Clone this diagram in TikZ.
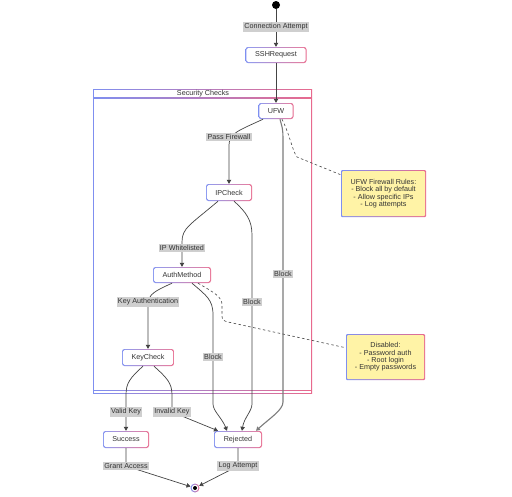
\documentclass[tikz,border=0pt]{standalone}
\usepackage{fontspec}
\setmainfont{Liberation Sans}
\usetikzlibrary{arrows.meta}
\definecolor{bc}{HTML}{7F8FF0}
\definecolor{pc}{HTML}{E86A8E}
\definecolor{notefill}{HTML}{FFF3A6}
\definecolor{lblfill}{HTML}{CFCFCF}
\definecolor{edgec}{HTML}{444444}
\definecolor{txtc}{HTML}{333333}
\tikzset{
  fnt/.style={font=\fontsize{7.2}{7.3}\selectfont},
  statebox/.style={fnt, rounded corners=2.5pt, left color=bc, right color=pc, text=txtc, inner sep=0pt,
    path picture={\fill[white,rounded corners=1.8pt] ([shift={(0.9pt,-0.9pt)}]path picture bounding box.north west) rectangle ([shift={(-0.9pt,0.9pt)}]path picture bounding box.south east);}},
  notebox/.style={fnt, rounded corners=1pt, left color=bc, right color=pc, text=txtc, inner sep=0pt, align=center,
    path picture={\fill[notefill] ([shift={(1pt,-1pt)}]path picture bounding box.north west) rectangle ([shift={(-1pt,1pt)}]path picture bounding box.south east);}},
  lbl/.style={fnt, fill=lblfill, text=txtc, inner xsep=1.2pt, inner ysep=1.6pt},
  edge/.style={draw=edgec, line width=0.7pt, -{Triangle[length=4pt,width=4.5pt]}},
  thickedge/.style={draw=edgec!70, line width=1.1pt, -{Triangle[length=4pt,width=4.5pt]}},
  notelink/.style={draw=edgec, dash pattern=on 2.5pt off 2.5pt, line width=0.6pt},
}
\begin{document}
\begin{tikzpicture}[x=1pt,y=-1pt]
\useasboundingbox (0,0) rectangle (512,496);
% cluster
\shade[left color=bc,right color=pc] (93,89) rectangle (312,393.5);
\fill[white] (94,90) rectangle (311,97.4);
\fill[white] (94,98.6) rectangle (311,390.4);
\fill[white] (94,391.3) rectangle (311,392.5);
\node[fnt, text=txtc] (cltitle) at (203,93.7) {Security Checks};
% nodes
\node[circle, fill=black, minimum size=8pt, inner sep=0pt] (start) at (276,5) {};
\node[statebox, minimum width=61pt, minimum height=16pt] (ssh) at (276,55) {SSHRequest};
\node[statebox, minimum width=35pt, minimum height=16pt] (ufw) at (276,111) {UFW};
\node[statebox, minimum width=46pt, minimum height=17pt] (ipcheck) at (229,192.5) {IPCheck};
\node[statebox, minimum width=58pt, minimum height=16pt] (auth) at (182,275) {AuthMethod};
\node[statebox, minimum width=52pt, minimum height=17pt] (keycheck) at (148,357.5) {KeyCheck};
\node[statebox, minimum width=46pt, minimum height=17pt] (success) at (126,439.5) {Success};
\node[statebox, minimum width=48pt, minimum height=17pt] (rejected) at (238,439.5) {Rejected};
\node[notebox, minimum width=85pt, minimum height=47pt] (note1) at (383.5,193.5) {UFW Firewall Rules:\\- Block all by default\\- Allow specific IPs\\- Log attempts};
\node[notebox, minimum width=79pt, minimum height=46pt] (note2) at (385.5,357) {Disabled:\\- Password auth\\- Root login\\- Empty passwords};
\node[circle, inner sep=0pt, minimum size=9pt, left color=bc, right color=pc] (end) at (195,488) {};
\fill[white] (end.center) circle (3.3pt);
\fill[black] (end.center) circle (2pt);
% edges
\draw[edge] (start) -- (ssh);
\draw[edge] (ssh) -- (ufw);
\draw[edge] ([xshift=-13pt]ufw.south) .. controls (240,130) and (229,133) .. (229,145) -- (ipcheck.north);
\draw[thickedge] ([xshift=4pt]ufw.south) .. controls (282,127) and (283,128) .. (283,140) -- (283,402) .. controls (283,410) and (270,418) .. ([xshift=18pt]rejected.north);
\draw[edge] ([xshift=5pt]ipcheck.south) .. controls (246,212) and (252,220) .. (252,235) -- (252,404) .. controls (252,411) and (244,418) .. ([xshift=4pt]rejected.north);
\draw[edge] ([xshift=-11pt]ipcheck.south) .. controls (190,225) and (182,228) .. (182,242) -- (auth.north);
\draw[edge] ([xshift=-10pt]auth.south) .. controls (155,291) and (148,294) .. (148,305) -- (keycheck.north);
\draw[edge] ([xshift=10pt]auth.south) .. controls (207,296) and (213,300) .. (213,315) -- (213,404) .. controls (213,411) and (222,418) .. ([xshift=-11pt]rejected.north);
\draw[edge] ([xshift=-5pt]keycheck.south) .. controls (130,378) and (126,383) .. (126,395) -- (success.north);
\draw[edge] ([xshift=6pt]keycheck.south) .. controls (167,378) and (172,383) .. (172,395) -- (172,412) -- ([xshift=-20pt]rejected.north);
\draw[edge] (success.south) -- (126,466) -- (end);
\draw[edge] (rejected.south) -- (238,466) -- (end);
\draw[notelink] ([xshift=6pt]ufw.south) .. controls (290,135) and (292,150) .. (297,157) -- ([yshift=-5pt]note1.north west);
\draw[notelink] ([xshift=16pt]auth.south) .. controls (215,293) and (222,297) .. (222,305) -- (222,316) .. controls (222,320) and (224,321) .. (228,322) -- ([yshift=-14pt]note2.north west);
% labels
\node[lbl] (lConn) at (276,27) {Connection Attempt};
\node[lbl] (lPass) at (229,137) {Pass Firewall};
\node[lbl] (lBlockU) at (283,274) {Block};
\node[lbl] (lIPW) at (182,248) {IP Whitelisted};
\node[lbl] (lBlockI) at (252,302) {Block};
\node[lbl] (lKeyA) at (148,302) {Key Authentication};
\node[lbl] (lBlockA) at (213,357) {Block};
\node[lbl] (lValid) at (126,412) {Valid Key};
\node[lbl] (lInvalid) at (172,412) {Invalid Key};
\node[lbl] (lGrant) at (126,466) {Grant Access};
\node[lbl] (lLog) at (238,466) {Log Attempt};
\end{tikzpicture}
\end{document}
